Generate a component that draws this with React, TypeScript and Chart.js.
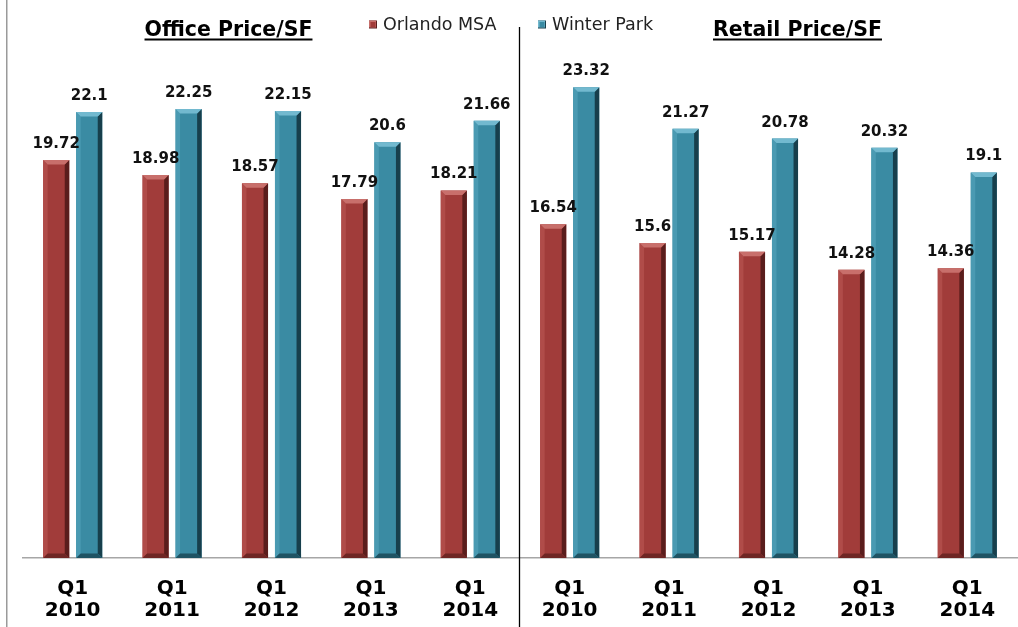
import React, { useEffect, useRef } from "react";
import { Chart, registerables } from "chart.js";

Chart.register(...registerables);

const categories: string[] = [
  "Q1 2010", "Q1 2011", "Q1 2012", "Q1 2013", "Q1 2014",
  "Q1 2010", "Q1 2011", "Q1 2012", "Q1 2013", "Q1 2014",
];
const orlandoMSA: number[] = [19.72, 18.98, 18.57, 17.79, 18.21, 16.54, 15.6, 15.17, 14.28, 14.36];
const winterPark: number[] = [22.1, 22.25, 22.15, 20.6, 21.66, 23.32, 21.27, 20.78, 20.32, 19.1];
const seriesNames: string[] = ["Orlando MSA", "Winter Park"];
const panelTitles: string[] = ["Office Price/SF", "Retail Price/SF"];

const PALETTE = [
  { base: "#A13C3A", top: "#C86F6B", left: "#B04C49", right: "#5A1D1C", bottom: "#6E2624" },
  { base: "#3A8BA3", top: "#72B9CF", left: "#4A9AB2", right: "#173F4C", bottom: "#1F5363" },
];

const FONT = "'DejaVu Sans', Verdana, sans-serif";

const bevelPlugin = {
  id: "bevel",
  afterDatasetsDraw(chart: any) {
    const ctx = chart.ctx;
    chart.data.datasets.forEach((ds: any, di: number) => {
      const meta = chart.getDatasetMeta(di);
      const pal = PALETTE[di];
      meta.data.forEach((bar: any) => {
        const { x, y, base, width } = bar.getProps(["x", "y", "base", "width"], true);
        const l = x - width / 2;
        const r = x + width / 2;
        const t = y;
        const b = base;
        const bv = 4.5;
        const poly = (pts: number[][], color: string) => {
          ctx.beginPath();
          ctx.moveTo(pts[0][0], pts[0][1]);
          for (let i = 1; i < pts.length; i++) ctx.lineTo(pts[i][0], pts[i][1]);
          ctx.closePath();
          ctx.fillStyle = color;
          ctx.fill();
        };
        ctx.save();
        poly([[l, t], [l + bv, t + bv], [l + bv, b - bv], [l, b]], pal.left);
        poly([[r, t], [r - bv, t + bv], [r - bv, b - bv], [r, b]], pal.right);
        poly([[l, b], [l + bv, b - bv], [r - bv, b - bv], [r, b]], pal.bottom);
        poly([[l, t], [r, t], [r - bv, t + bv], [l + bv, t + bv]], pal.top);
        ctx.restore();
      });
    });
  },
};

const labelsPlugin = {
  id: "valueLabels",
  afterDatasetsDraw(chart: any) {
    const ctx = chart.ctx;
    ctx.save();
    ctx.font = `bold 15px ${FONT}`;
    ctx.fillStyle = "#111";
    ctx.textAlign = "center";
    ctx.textBaseline = "alphabetic";
    chart.data.datasets.forEach((ds: any, di: number) => {
      const meta = chart.getDatasetMeta(di);
      meta.data.forEach((bar: any, i: number) => {
        const { x, y } = bar.getProps(["x", "y"], true);
        ctx.fillText(String(ds.data[i]), x, y - 12);
      });
    });
    ctx.restore();
  },
};

const decorPlugin = {
  id: "decor",
  afterDraw(chart: any) {
    const ctx = chart.ctx;
    const H = chart.height;
    ctx.save();
    ctx.strokeStyle = "#9a9a9a";
    ctx.lineWidth = 1.5;
    ctx.beginPath();
    ctx.moveTo(6.75, 0);
    ctx.lineTo(6.75, H);
    ctx.stroke();
    ctx.strokeStyle = "#000";
    ctx.lineWidth = 1.3;
    ctx.beginPath();
    ctx.moveTo(519.5, 27);
    ctx.lineTo(519.5, H);
    ctx.stroke();
    ctx.font = `bold 20.5px ${FONT}`;
    ctx.fillStyle = "#000";
    ctx.textAlign = "center";
    ctx.textBaseline = "alphabetic";
    const titleX = [228.5, 797.5];
    panelTitles.forEach((t, i) => {
      ctx.fillText(t, titleX[i], 35.5);
      const w = ctx.measureText(t).width;
      ctx.fillRect(titleX[i] - w / 2, 38.5, w, 2);
    });
    const lx = [369, 538];
    ctx.font = `17.5px ${FONT}`;
    ctx.textAlign = "left";
    ctx.textBaseline = "middle";
    seriesNames.forEach((n, i) => {
      const pal = PALETTE[i];
      ctx.fillStyle = pal.right;
      ctx.fillRect(lx[i], 20.5, 8, 8);
      ctx.fillStyle = pal.top;
      ctx.fillRect(lx[i], 20.5, 7, 7);
      ctx.fillStyle = pal.base;
      ctx.fillRect(lx[i] + 1.5, 22, 5, 5);
      ctx.fillStyle = "#222";
      ctx.fillText(n, lx[i] + 14, 25);
    });
    ctx.restore();
  },
};

export default function App() {
  const ref = useRef<HTMLCanvasElement | null>(null);
  useEffect(() => {
    if (!ref.current) return;
    const chart = new Chart(ref.current, {
      type: "bar",
      data: {
        labels: categories.map((c) => c.split(" ")),
        datasets: [
          { label: seriesNames[0], data: orlandoMSA, backgroundColor: PALETTE[0].base, borderWidth: 0 },
          { label: seriesNames[1], data: winterPark, backgroundColor: PALETTE[1].base, borderWidth: 0 },
        ],
      },
      options: {
        responsive: false,
        animation: false,
        layout: { padding: { left: 23, right: 1, top: 13, bottom: 0 } },
        datasets: { bar: { categoryPercentage: 0.664, barPercentage: 0.79 } },
        plugins: { legend: { display: false }, tooltip: { enabled: false }, title: { display: false } },
        scales: {
          x: {
            grid: { display: false, drawTicks: false },
            border: { display: true, color: "#a6a6a6", width: 1.5 },
            ticks: {
              color: "#000",
              font: { family: FONT, size: 20, weight: "bold", lineHeight: 1.1 },
              padding: 20,
              maxRotation: 0,
              autoSkip: false,
            },
            afterFit: (scale: any) => {
              scale.height = 69;
            },
          },
          y: { display: false, min: 0, max: 27 },
        },
      },
      plugins: [bevelPlugin, labelsPlugin, decorPlugin],
    });
    return () => chart.destroy();
  }, []);
  return (
    <div style={{ position: "absolute", left: 0, top: 0, width: 1018, height: 627, background: "#fff" }}>
      <canvas ref={ref} width={1018} height={627} />
    </div>
  );
}
